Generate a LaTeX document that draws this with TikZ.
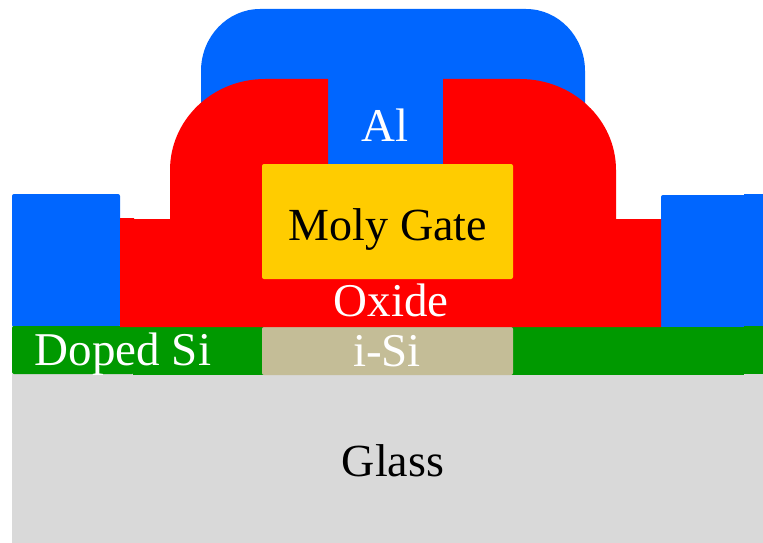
\documentclass[tikz,border=0pt]{standalone}
\usepackage{fontspec}
\setmainfont{Liberation Serif}
\usepackage{xcolor}
\definecolor{alblue}{HTML}{0066FF}
\definecolor{oxidered}{HTML}{FF0000}
\definecolor{dopedgreen}{HTML}{009900}
\definecolor{isitan}{HTML}{C4BD97}
\definecolor{molyyellow}{HTML}{FFCC00}
\definecolor{glassgray}{HTML}{D9D9D9}
\begin{document}
\begin{tikzpicture}[x=1pt, y=-1pt,
    layer/.style={rounded corners=2pt},
    whitelabel/.style={text=white, anchor=base, inner sep=0pt, font=\fontsize{47}{50}\selectfont},
    blacklabel/.style={text=black, anchor=base, inner sep=0pt, font=\fontsize{46}{50}\selectfont}]
    \useasboundingbox (0,0) rectangle (763,543);

    \fill[glassgray] (12,374) rectangle (763,543);

    \fill[alblue, layer] (12,194) rectangle (120,327);
    \fill[alblue, layer] (661,195) rectangle (750,330);
    \fill[alblue] (744,194) rectangle (763,326);

    \fill[dopedgreen, layer] (12,326) rectangle (134,374);
    \fill[dopedgreen] (133,327) rectangle (744,375);
    \fill[dopedgreen] (744,326) rectangle (763,374);
    \fill[isitan, layer] (262,327) rectangle (513,375);

    \fill[alblue] (201,170) -- (201,71) arc[start angle=180, end angle=270, x radius=59, y radius=62]
        -- (526,9) arc[start angle=270, end angle=360, x radius=59, y radius=62] -- (585,170) -- cycle;

    \fill[oxidered] (120,218) -- (134,218) -- (134,219) -- (170,219) -- (170,170)
        arc[start angle=180, end angle=270, x radius=95, y radius=91]
        -- (328,79) -- (328,170) -- (443,170) -- (443,79) -- (520,79)
        arc[start angle=270, end angle=360, x radius=96, y radius=91]
        -- (616,219) -- (661,219) -- (661,327) -- (120,327) -- cycle;

    \fill[molyyellow, layer] (262,164) rectangle (513,279);

    \node[whitelabel] (al) at (385,141) {Al};
    \node[blacklabel] (gate) at (388,240) {Moly Gate};
    \node[whitelabel] (oxide) at (391,316) {Oxide};
    \node[whitelabel] (doped) at (123,365) {Doped Si};
    \node[whitelabel] (isi) at (387,366) {i-Si};
    \node[blacklabel] (glass) at (393,476) {Glass};
\end{tikzpicture}
\end{document}
